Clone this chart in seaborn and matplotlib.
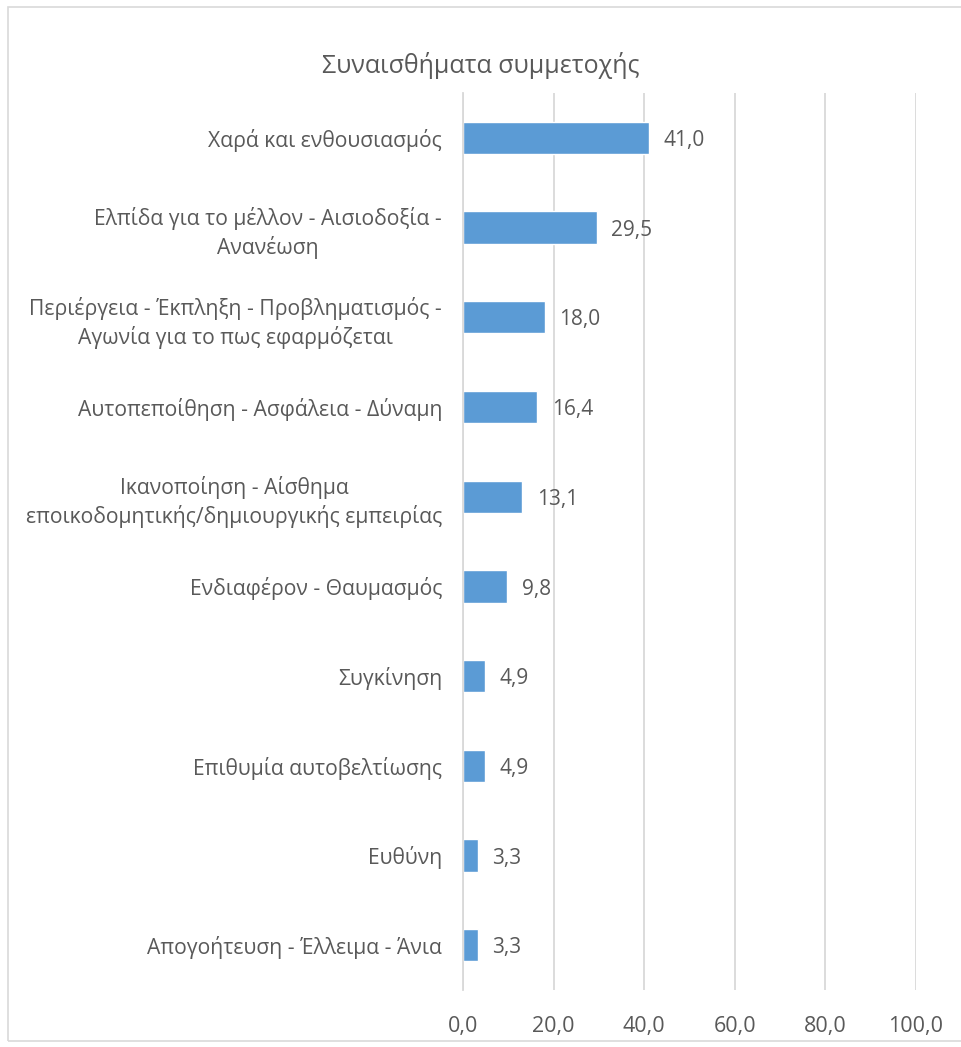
import matplotlib
matplotlib.use("Agg")
import matplotlib.pyplot as plt
import seaborn as sns
import pandas as pd
from matplotlib.patches import Rectangle

# Datos
categorias = [
    "Χαρά και ενθουσιασμός",
    "Ελπίδα για το μέλλον - Αισιοδοξία -\nΑνανέωση",
    "Περιέργεια - Έκπληξη - Προβληματισμός -\nΑγωνία για το πως εφαρμόζεται",
    "Αυτοπεποίθηση - Ασφάλεια - Δύναμη",
    "Ικανοποίηση - Αίσθημα\nεποικοδομητικής/δημιουργικής εμπειρίας",
    "Ενδιαφέρον - Θαυμασμός",
    "Συγκίνηση",
    "Επιθυμία αυτοβελτίωσης",
    "Ευθύνη",
    "Απογοήτευση - Έλλειμα - Άνια",
]
valores = [41.0, 29.5, 18.0, 16.4, 13.1, 9.8, 4.9, 4.9, 3.3, 3.3]
ticks_x = [0, 20, 40, 60, 80, 100]
titulo = "Συναισθήματα συμμετοχής"

df = pd.DataFrame({"categoria": categorias, "valor": valores})

sns.set_theme(style="white")
plt.rcParams['font.family'] = ['Open Sans', 'DejaVu Sans']

gris_texto = "#595959"
azul = "#5B9BD5"

fig = plt.figure(figsize=(9.61, 10.47), dpi=100)
ax = fig.add_axes([0.4818, 0.0544, 0.4714, 0.8568])

sns.barplot(data=df, x="valor", y="categoria", color=azul, saturation=1,
            width=0.36, ax=ax, orient="h")

ax.set_xlim(0, 100)
ax.set_xticks(ticks_x)
ax.set_xticklabels([f"{t:.1f}".replace(".", ",") for t in ticks_x],
                   fontsize=15.5, color=gris_texto)
ax.tick_params(axis="x", length=0, pad=19)
ax.tick_params(axis="y", length=0, pad=15)
ax.set_yticks(range(len(categorias)))
ax.set_yticklabels(categorias, fontsize=15.2, color=gris_texto,
                   ma="center", linespacing=1.35)

ax.set_xlabel("")
ax.set_ylabel("")
ax.grid(axis="x", color="#D9D9D9", linewidth=1.3)
ax.set_axisbelow(True)
for s in ["top", "right", "bottom"]:
    ax.spines[s].set_visible(False)
ax.spines["left"].set_color("#D9D9D9")
ax.spines["left"].set_linewidth(1.3)

# etiquetas de datos
for i, v in enumerate(valores):
    ax.text(v + 3.2, i + 0.03, f"{v:.1f}".replace(".", ","), va="center", ha="left",
            fontsize=15, color=gris_texto)

fig.text(0.5, 0.937, titulo, ha="center", va="center", fontsize=18, color=gris_texto)

# marco del grafico
fig.patches.append(Rectangle((0.008, 0.006), 0.995, 0.987, transform=fig.transFigure,
                             fill=False, edgecolor="#D9D9D9", linewidth=1.2))

plt.savefig("out.png", dpi=100)
plt.close()
